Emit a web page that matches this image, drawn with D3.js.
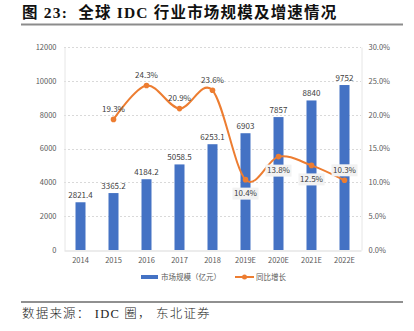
<!DOCTYPE html>
<html>
<head>
<meta charset="utf-8">
<script src="https://cdn.jsdelivr.net/npm/d3@7"></script>
<style>
  html, body { margin: 0; padding: 0; background: #fff; }
  svg { display: block; }
</style>
</head>
<body>
<div id="chart"></div>
<script>
const years = ["2014","2015","2016","2017","2018","2019E","2020E","2021E","2022E"];
const marketSize = [2821.4, 3365.2, 4184.2, 5058.5, 6253.1, 6903, 7857, 8840, 9752];
const growth = [null, 19.3, 24.3, 20.9, 23.6, 10.4, 13.8, 12.5, 10.3];
const leftTicks = [0, 2000, 4000, 6000, 8000, 10000, 12000];
const rightTicks = [0, 5, 10, 15, 20, 25, 30];
// where each growth label sits relative to its point
const growthLabelPos = [null, "above", "above", "above", "above", "below", "below", "below", "above"];

const W = 414, H = 331;
const plot = {left: 64, right: 361, top: 47, bottom: 250};
const sans = "'Noto Sans CJK SC', 'Noto Sans', sans-serif";
const serif = "'Liberation Serif', 'Noto Sans CJK SC', serif";

const svg = d3.select("#chart").append("svg")
    .attr("width", W)
    .attr("height", H);

// heading
svg.append("text")
    .attr("x", 22)
    .attr("y", 18)
    .attr("font-family", serif)
    .attr("font-weight", "bold")
    .attr("font-size", 15.5)
    .attr("letter-spacing", 1.2)
    .attr("fill", "#111")
    .attr("xml:space", "preserve")
    .text("图 23:  全球 IDC 行业市场规模及增速情况");

svg.append("line")
    .attr("x1", 21).attr("x2", 403)
    .attr("y1", 24.5).attr("y2", 24.5)
    .attr("stroke", "#8c8c8c")
    .attr("stroke-width", 2);

const x = d3.scaleBand().domain(years).range([plot.left, plot.right]).paddingInner(0).paddingOuter(0);
const yL = d3.scaleLinear().domain([0, 12000]).range([plot.bottom, plot.top]);
const yR = d3.scaleLinear().domain([0, 30]).range([plot.bottom, plot.top]);

// grid
svg.append("g")
    .selectAll("line")
    .data(leftTicks.slice(1))
    .join("line")
    .attr("x1", plot.left).attr("x2", plot.right)
    .attr("y1", d => Math.round(yL(d)) + 0.5)
    .attr("y2", d => Math.round(yL(d)) + 0.5)
    .attr("stroke", "#d9d9d9")
    .attr("stroke-dasharray", "2,2");

// left axis
const axL = svg.append("g")
    .attr("transform", `translate(${plot.left + 0.5},0)`)
    .call(d3.axisLeft(yL).tickValues(leftTicks).tickSize(0).tickPadding(8).tickFormat(d3.format("d")));
axL.select(".domain").attr("stroke", "#e6e6e6");

// right axis
const axR = svg.append("g")
    .attr("transform", `translate(${plot.right + 0.5},0)`)
    .call(d3.axisRight(yR).tickValues(rightTicks).tickSize(0).tickPadding(7).tickFormat(d => d.toFixed(1) + "%"));
axR.select(".domain").attr("stroke", "#e6e6e6");

// bottom axis
const axB = svg.append("g")
    .attr("transform", `translate(0,${plot.bottom + 0.5})`)
    .call(d3.axisBottom(x).tickSize(0).tickPadding(7));
axB.select(".domain").attr("stroke", "#d9d9d9");

svg.selectAll(".tick text")
    .attr("font-family", sans)
    .attr("font-size", 7.5)
    .attr("fill", "#595959");

// bars
const barW = 10;
svg.append("g")
    .selectAll("rect")
    .data(years)
    .join("rect")
    .attr("x", d => x(d) + x.bandwidth() / 2 - barW / 2)
    .attr("y", (d, i) => yL(marketSize[i]))
    .attr("width", barW)
    .attr("height", (d, i) => plot.bottom - yL(marketSize[i]))
    .attr("fill", "#4472c4");

svg.append("g")
    .selectAll("text")
    .data(years)
    .join("text")
    .attr("x", d => x(d) + x.bandwidth() / 2)
    .attr("y", (d, i) => yL(marketSize[i]) - 4)
    .attr("text-anchor", "middle")
    .attr("font-family", sans)
    .attr("font-size", 8)
    .attr("fill", "#404040")
    .text((d, i) => marketSize[i]);

// growth line
const pts = years.map((d, i) => ({year: d, v: growth[i], pos: growthLabelPos[i]})).filter(d => d.v != null);
const line = d3.line()
    .x(d => x(d.year) + x.bandwidth() / 2)
    .y(d => yR(d.v))
    .curve(d3.curveCardinal.tension(0));

svg.append("path")
    .datum(pts)
    .attr("d", line)
    .attr("fill", "none")
    .attr("stroke", "#ed7d31")
    .attr("stroke-width", 2);

svg.append("g")
    .selectAll("circle")
    .data(pts)
    .join("circle")
    .attr("cx", d => x(d.year) + x.bandwidth() / 2)
    .attr("cy", d => yR(d.v))
    .attr("r", 2.8)
    .attr("fill", "#ed7d31");

const gl = svg.append("g")
    .selectAll("g")
    .data(pts)
    .join("g")
    .attr("transform", d => {
        const cx = x(d.year) + x.bandwidth() / 2;
        const cy = yR(d.v) + (d.pos === "above" ? -10 : 14);
        return `translate(${cx},${cy})`;
    });

// boxed labels for the ones sitting on bars
gl.filter(d => d.pos === "below" || d.year === "2022E")
    .append("rect")
    .attr("x", -13).attr("y", -6)
    .attr("width", 26).attr("height", 12)
    .attr("fill", "#f2f2f2");

gl.append("text")
    .attr("text-anchor", "middle")
    .attr("dy", "0.35em")
    .attr("font-family", sans)
    .attr("font-size", 8)
    .attr("fill", "#404040")
    .text(d => d.v.toFixed(1) + "%");

// legend
const lg = svg.append("g").attr("transform", "translate(0,277)");
lg.append("rect")
    .attr("x", 141).attr("y", -2)
    .attr("width", 17).attr("height", 4)
    .attr("fill", "#4472c4");
lg.append("text")
    .attr("x", 161).attr("y", 0)
    .attr("dy", "0.35em")
    .attr("font-family", sans)
    .attr("font-size", 7.5)
    .attr("fill", "#595959")
    .text("市场规模（亿元）");
lg.append("line")
    .attr("x1", 235).attr("x2", 254)
    .attr("y1", 0).attr("y2", 0)
    .attr("stroke", "#ed7d31")
    .attr("stroke-width", 2);
lg.append("circle")
    .attr("cx", 244.5).attr("cy", 0)
    .attr("r", 2.5)
    .attr("fill", "#ed7d31");
lg.append("text")
    .attr("x", 256).attr("y", 0)
    .attr("dy", "0.35em")
    .attr("font-family", sans)
    .attr("font-size", 7.5)
    .attr("fill", "#595959")
    .text("同比增长");

// source line
svg.append("line")
    .attr("x1", 21).attr("x2", 403)
    .attr("y1", 302).attr("y2", 302)
    .attr("stroke", "#222")
    .attr("stroke-width", 1.2);

svg.append("text")
    .attr("x", 22)
    .attr("y", 318)
    .attr("font-family", serif)
    .attr("font-size", 12.5)
    .attr("font-weight", 300)
    .attr("letter-spacing", 1.2)
    .attr("fill", "#222")
    .attr("xml:space", "preserve")
    .text("数据来源： IDC 圈， 东北证券");
</script>
</body>
</html>
